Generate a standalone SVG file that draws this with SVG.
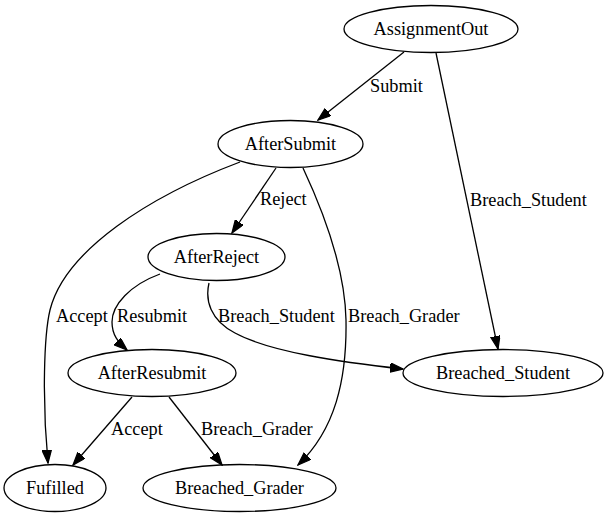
<svg xmlns="http://www.w3.org/2000/svg" width="609" height="517" viewBox="0 0 609 517" font-family="'Liberation Serif', 'Times New Roman', Times, serif">
<style>
.n ellipse{fill:none;stroke:#000;stroke-width:1.3}
text{font-family:'Liberation Serif','Times New Roman',Times,serif;font-size:18.3px;fill:#000}
.n text{text-anchor:middle}
.e path{fill:none;stroke:#000;stroke-width:1.3;marker-end:url(#ah)}
</style>
<defs>
<marker id="ah" markerUnits="userSpaceOnUse" markerWidth="14" markerHeight="10" refX="13" refY="4.7" orient="auto">
<path d="M0,0 L13,4.7 L0,9.4 Z" fill="#000" stroke="#000" stroke-width="1.3"/>
</marker>
</defs>
<rect width="609" height="517" fill="#fff"/>
<g id="edges" class="e">
<path d="M404,52 L318,120"/>
<path d="M436,53 L498,349"/>
<path d="M276,168 L232,233"/>
<path d="M240,162 C150,196 65,250 50,310 C44,335 42,400 48,463"/>
<path d="M303,168 C325,215 345,270 346,320 C347,380 335,430 298,465"/>
<path d="M160,274 C130,285 112,305 112,322 C112,335 118,342 127,350"/>
<path d="M209,283 C205,300 210,320 235,333 C270,352 340,362 403,369"/>
<path d="M132,397 L73,465"/>
<path d="M169,397 L222,465"/>
<text x="370" y="92">Submit</text>
<text x="470" y="206">Breach_Student</text>
<text x="260" y="205">Reject</text>
<text x="56" y="322">Accept</text>
<text x="117" y="322">Resubmit</text>
<text x="218" y="322">Breach_Student</text>
<text x="348" y="322">Breach_Grader</text>
<text x="111" y="435">Accept</text>
<text x="201" y="435">Breach_Grader</text>
</g>
<g id="AssignmentOut" class="n"><ellipse cx="431" cy="29" rx="87" ry="23.5"/><text x="431" y="35">AssignmentOut</text></g>
<g id="AfterSubmit" class="n"><ellipse cx="290.5" cy="144" rx="72.5" ry="23.5"/><text x="290.5" y="150">AfterSubmit</text></g>
<g id="AfterReject" class="n"><ellipse cx="216.5" cy="257" rx="68.5" ry="23.5"/><text x="216.5" y="263">AfterReject</text></g>
<g id="AfterResubmit" class="n"><ellipse cx="152" cy="373" rx="84" ry="23.5"/><text x="152" y="379">AfterResubmit</text></g>
<g id="Fufilled" class="n"><ellipse cx="55" cy="488" rx="51" ry="23.5"/><text x="55" y="494">Fufilled</text></g>
<g id="Breached_Grader" class="n"><ellipse cx="239.5" cy="488" rx="96.5" ry="23.5"/><text x="239.5" y="494">Breached_Grader</text></g>
<g id="Breached_Student" class="n"><ellipse cx="503" cy="373" rx="100" ry="23.5"/><text x="503" y="379">Breached_Student</text></g>
</svg>
